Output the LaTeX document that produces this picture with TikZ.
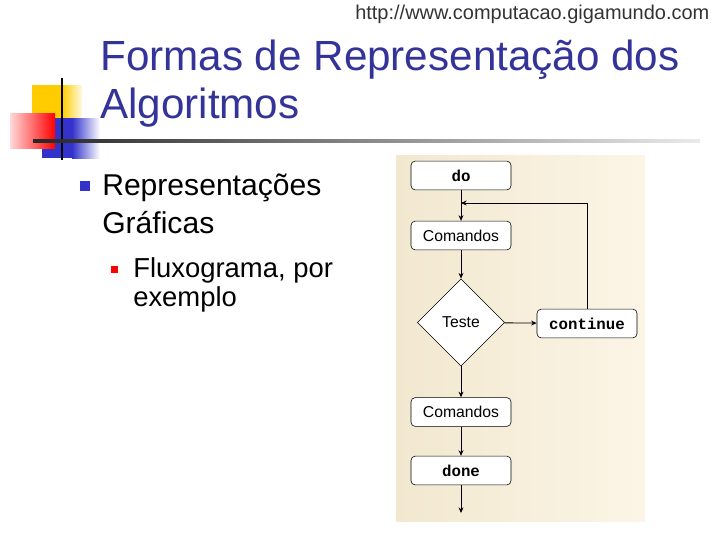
\documentclass[tikz,border=0pt]{standalone}
\usepackage{fontspec}
\setmainfont{Liberation Sans}
\newfontfamily\codefont{Liberation Mono}
\usetikzlibrary{shapes.geometric,arrows.meta}

\definecolor{titleblue}{RGB}{51,51,153}
\definecolor{bulletblue}{RGB}{51,51,204}
\definecolor{logoyellow}{RGB}{255,204,0}
\definecolor{panelleft}{RGB}{242,232,208}
\definecolor{panelright}{RGB}{252,245,230}

\begin{document}
\begin{tikzpicture}[x=0.025cm,y=-0.025cm,
  flowbox/.style={draw,fill=white,rounded corners=3pt,minimum width=2.5cm,minimum height=0.72cm,inner sep=0pt,font=\fontsize{11.2}{13}\selectfont},
  codebox/.style={flowbox,font=\codefont\bfseries\fontsize{11.2}{13}\selectfont},
  decision/.style={draw,fill=white,diamond,aspect=1,minimum width=2.18cm,minimum height=2.18cm,inner sep=0pt,font=\fontsize{11.2}{13}\selectfont},
  flowline/.style={line width=0.6pt,-{Stealth[length=4pt,width=3.5pt]}},
  textline/.style={anchor=base west,inner sep=0pt}]

\useasboundingbox (0,0) rectangle (720,540);

% Logo squares
\fill[logoyellow] (32,85) rectangle (62,120);
\shade[left color=logoyellow,right color=logoyellow!10] (62,85) rectangle (82,120);
\fill[bulletblue] (42,118) rectangle (72,158);
\shade[left color=bulletblue,right color=white] (72,118) rectangle (100,158);
\shade[left color=red!15,right color=red] (10,113) rectangle (55,148);

% Logo cross and title rule
\draw[line width=1.4pt] (62,78) -- (62,160);
\shade[left color=black!85,right color=black!8] (33,139.5) rectangle (700,142.5);

% Header and title
\node[textline,text=black!80,font=\fontsize{14.2}{16}\selectfont] (url) at (355,19) {http://www.computacao.gigamundo.com};
\node[textline,text=titleblue,font=\fontsize{30}{36}\selectfont] (title1) at (100,70) {Formas de Representação dos};
\node[textline,text=titleblue,font=\fontsize{30}{36}\selectfont] (title2) at (100,118) {Algoritmos};

% Bullets
\fill[bulletblue] (80,181) rectangle (90,191);
\node[textline,font=\fontsize{21.4}{26}\selectfont] (lvl1a) at (102,195) {Representações};
\node[textline,font=\fontsize{21.4}{26}\selectfont] (lvl1b) at (102,233) {Gráficas};
\fill[red] (111,266) rectangle (118,273);
\node[textline,font=\fontsize{19.5}{23}\selectfont] (lvl2a) at (133,277) {Fluxograma, por};
\node[textline,font=\fontsize{19.5}{23}\selectfont] (lvl2b) at (133,306) {exemplo};

% Flowchart panel
\shade[left color=panelleft,right color=panelright] (396,155) rectangle (645,521);

\node[codebox] (do) at (461,175.5) {do};
\node[flowbox] (cmd1) at (461,235.5) {Comandos};
\node[decision] (test) at (461,322.5) {Teste};
\node[codebox] (cont) at (587,323.5) {continue};
\node[flowbox] (cmd2) at (461,412) {Comandos};
\node[codebox] (done) at (461,470.5) {done};
\coordinate (join) at (461,203);
\coordinate (exit) at (461,513);

\draw[flowline] (do) -- (cmd1);
\draw[flowline] (cmd1) -- (test);
\draw[flowline] (test) -- (cont);
\draw[flowline] (cont.north) |- (join);
\draw[flowline] (test) -- (cmd2);
\draw[flowline] (cmd2) -- (done);
\draw[flowline] (done) -- (exit);

\end{tikzpicture}
\end{document}
